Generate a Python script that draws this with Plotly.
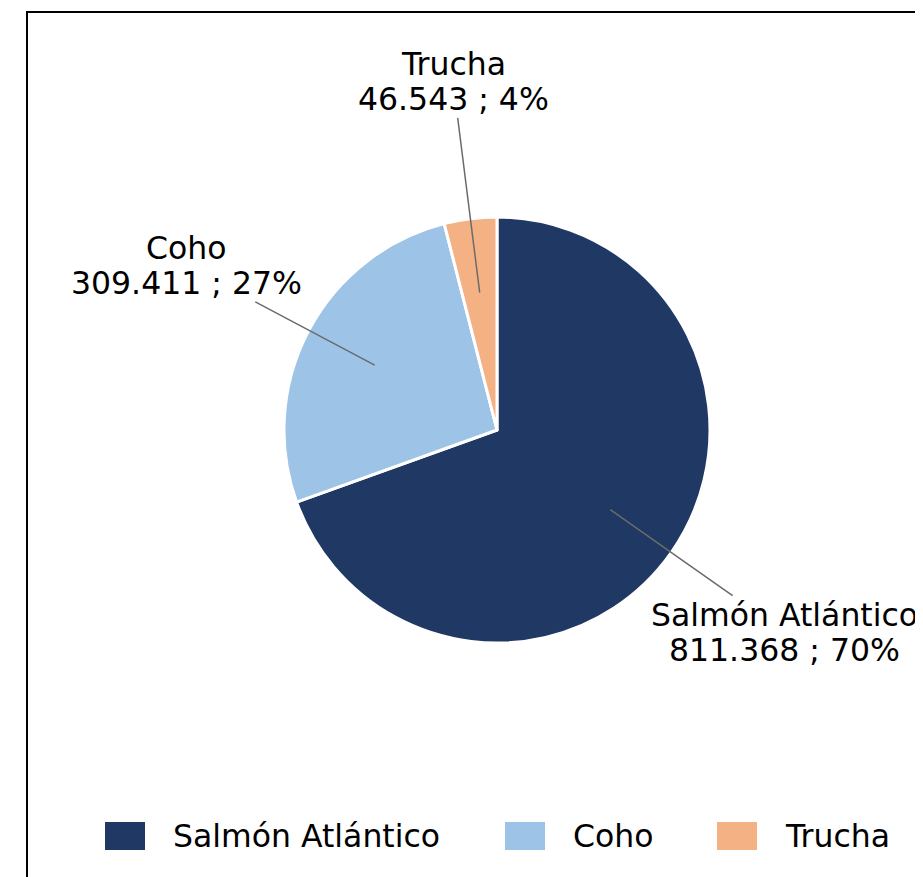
import math
import plotly.graph_objects as go

# Data
categories = ["Salmón Atlántico", "Coho", "Trucha"]
values = [811368, 309411, 46543]
colors = ["#203864", "#9DC3E6", "#F4B183"]

# Page / pie geometry in pixels (page body has an 8px margin)
OFF = 8
W, H = 923 - OFF, 877 - OFF
CX, CY, R = 497 - OFF, 430 - OFF, 213
FONT = "DejaVu Sans"
FS = 31.5
LINE = 35


def miles(v):
    # Spanish style thousands separator
    return f"{v:,}".replace(",", ".")


total = sum(values)

fig = go.Figure()

fig.add_trace(go.Pie(labels=categories,
                     values=values,
                     sort=False,
                     direction="clockwise",
                     rotation=0,
                     marker=dict(colors=colors, line=dict(color="white", width=3)),
                     textinfo="none",
                     hoverinfo="label+value+percent",
                     showlegend=False,
                     domain=dict(x=[(CX - R) / W, (CX + R) / W],
                                 y=[(H - CY - R) / H, (H - CY + R) / H])))

# Labels with leader lines, placed from each slice's mid angle
annotations = []
start = 90.0
for cat, val in zip(categories, values):
    frac = val / total
    mid = math.radians(start - frac * 180)
    start -= frac * 360
    c, s = math.cos(mid), math.sin(mid)
    line2 = f"{miles(val)} ; {round(frac * 100)}%"
    # leader line, ending at an empty box about the size of the label
    annotations.append(dict(x=0.65 * c, y=0.65 * s,
                            ax=1.65 * c, ay=1.65 * s,
                            xref="x", yref="y", axref="x", ayref="y",
                            text=" ", height=2 * LINE,
                            width=0.5 * FS * max(len(cat), len(line2)),
                            showarrow=True, arrowhead=0, arrowwidth=1.5,
                            arrowcolor="#6b6b6b", standoff=0,
                            font=dict(family=FONT, size=FS, color="black")))
    for txt, shift in [(cat, LINE / 2), (line2, -LINE / 2)]:
        annotations.append(dict(x=1.65 * c, y=1.65 * s, xref="x", yref="y",
                                yshift=shift, text=txt, showarrow=False,
                                height=LINE - 1, borderpad=0,
                                font=dict(family=FONT, size=FS, color="black")))

# Custom legend at the bottom
legend_x = [105, 505, 717]
legend_y = 836
shapes = []
for lx, cat, col in zip(legend_x, categories, colors):
    lx -= OFF
    ly = legend_y - OFF
    shapes.append(dict(type="rect", xref="paper", yref="paper",
                       x0=lx / W, x1=(lx + 40) / W,
                       y0=(H - ly - 14) / H, y1=(H - ly + 14) / H,
                       fillcolor=col, line=dict(width=0)))
    annotations.append(dict(x=(lx + 66) / W, y=(H - ly) / H,
                            xref="paper", yref="paper",
                            xanchor="left", yanchor="middle",
                            text=cat, showarrow=False,
                            font=dict(family=FONT, size=FS, color="black")))

# Frame
shapes.append(dict(type="rect", xref="paper", yref="paper",
                   x0=(27 - OFF) / W, x1=1.05, y0=-0.05, y1=(H - 12 + OFF) / H,
                   line=dict(color="black", width=2)))

fig.update_layout(width=W, height=H,
                  margin=dict(l=0, r=0, t=0, b=0),
                  paper_bgcolor="white",
                  plot_bgcolor="rgba(0,0,0,0)",
                  xaxis=dict(range=[-CX / R, (W - CX) / R], visible=False,
                             domain=[0, 1], fixedrange=True),
                  yaxis=dict(range=[-(H - CY) / R, CY / R], visible=False,
                             domain=[0, 1], fixedrange=True),
                  annotations=annotations,
                  shapes=shapes)

fig.write_html("out.html")
